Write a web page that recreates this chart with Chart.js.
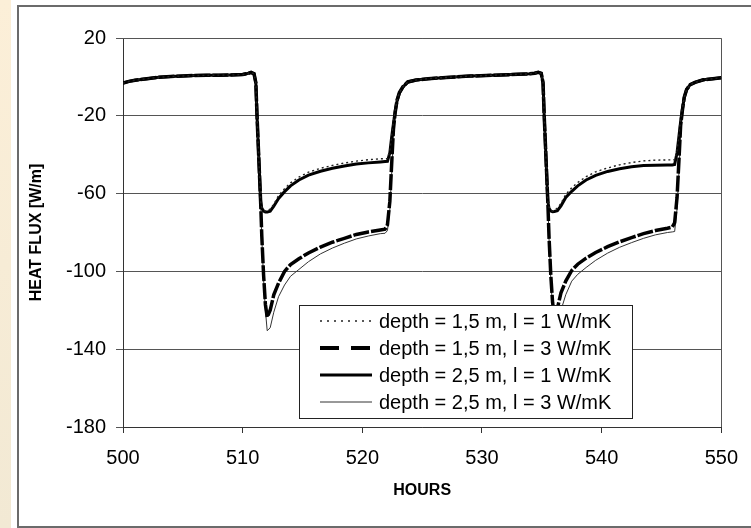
<!DOCTYPE html>
<html><head><meta charset="utf-8">
<script src="https://cdn.jsdelivr.net/npm/chart.js@4.4.0/dist/chart.umd.min.js"></script>
<style>
html,body{margin:0;padding:0;background:#fff;}
#wrap{position:relative;width:751px;height:528px;overflow:hidden;}
#strip{position:absolute;left:0;top:0;width:11px;height:528px;background:linear-gradient(#fcefd8,#f2e9d4);}
#frame{position:absolute;left:17px;top:5px;width:760px;height:523px;border:2px solid #6b6b6b;box-sizing:border-box;}
canvas{position:absolute;left:0;top:0;}
</style></head>
<body><div id="wrap"><div id="strip"></div><div id="frame"></div><canvas id="c" width="751" height="528"></canvas></div>
<script>
const hours = [500,500.5,501,502,503,504,505,506,507,508,509,510,510.4,510.7,510.95,511.1,511.2,511.35,511.5,511.6,
511.75,511.9,512.05,512.3,512.6,513,513.5,514,514.7,515.5,516.5,517.5,518.5,519.5,520.5,521.5,521.9,522.1,522.3,522.45,
522.6,522.75,522.9,523.1,523.4,523.8,524.5,525.5,527,529,531,533,534,534.4,534.7,534.95,535.1,535.2,535.35,535.5,
535.6,535.75,535.9,536.05,536.3,536.6,537,537.5,538,538.7,539.5,540.5,541.5,542.5,543.5,544.5,545.5,545.9,546.1,546.3,
546.45,546.6,546.75,546.9,547.1,547.4,547.8,548.5,549.3,550];

// depth = 1,5 m, l = 1 W/mK (dotted)
const fluxD15L1 = [-3.2,-2.3,-1.7,-0.9,-0.2,0.2,0.5,0.7,0.8,0.9,1.0,1.2,1.7,2.3,1.6,-3,-20,-42,-64,
-67,-68.5,-69,-68.8,-68,-65.5,-61,-57.5,-54.5,-51.5,-49,-47,-45.5,-44.3,-43.3,-42.6,-42.1,-42,
-42,-38,-30,-23,-17,-12,-8,-5,
-2.6,-1.6,-0.9,-0.3,0.4,0.9,1.3,1.6,1.9,2.4,1.8,-3,-20,-42,-64,
-67,-68.5,-69,-68.5,-67.5,-65,-60.5,-57,-54.3,-51.3,-48.8,-46.8,-45.2,-44,-43.2,-42.8,-42.7,-42.6,-42.6,
-38,-30,-22,-16,-10.5,
-6.5,-4,-2.8,-1.5,-0.9,-0.4];

// depth = 1,5 m, l = 3 W/mK (thick dashed)
const fluxD15L3 = [-3.2,-2.3,-1.7,-0.9,-0.2,0.2,0.5,0.7,0.8,0.9,1.0,1.2,1.7,2.3,1.6,-3,-20,-42,-64,
-82,-102,-117,-123.5,-120,-112,-106,-100,-96.5,-93.5,-90.5,-87.5,-85,-83,-81,-79.7,-78.7,-78.3,
-76,-64,-45,-27,-18,-12,-8,-5,
-2.6,-1.6,-0.9,-0.3,0.4,0.9,1.3,1.6,1.9,2.4,1.8,-3,-20,-42,-64,
-82,-102,-116,-122.5,-119,-111,-105,-99.5,-96.3,-93.2,-90.3,-87.3,-84.8,-82.6,-80.6,-79,-77.8,-77.2,-75,
-62,-44,-25,-17,-10.5,
-6.5,-4,-2.8,-1.5,-0.9,-0.4];

// depth = 2,5 m, l = 1 W/mK (thick solid)
const fluxD25L1 = [-3.2,-2.3,-1.7,-0.9,-0.2,0.2,0.5,0.7,0.8,0.9,1.0,1.2,1.7,2.3,1.6,-3,-20,-42,-64,
-67.5,-69,-69.5,-69.5,-69,-66.5,-62.5,-59,-56,-53,-50.5,-48.5,-47,-45.8,-44.8,-44.2,-43.7,-43.5,
-43.4,-39,-31,-24,-17.5,-12.5,-8.3,-5.2,
-2.6,-1.6,-0.9,-0.3,0.4,0.9,1.3,1.6,1.9,2.4,1.8,-3,-20,-42,-64,
-67.5,-69,-69.3,-69.2,-68.8,-66.3,-62,-58.8,-56,-53,-50.6,-48.6,-47.2,-46.2,-45.6,-45.4,-45.3,-45.3,-45,
-39,-31,-23,-16.5,-10.8,
-6.5,-4,-2.8,-1.5,-0.9,-0.4];

// depth = 2,5 m, l = 3 W/mK (thin solid)
const fluxD25L3 = [-3.2,-2.3,-1.7,-0.9,-0.2,0.2,0.5,0.7,0.8,0.9,1.0,1.2,1.7,2.3,1.6,-3,-20,-42,-64,
-83,-104,-120,-130.5,-129,-121,-113,-107,-102.5,-99,-95,-91,-88,-85.5,-83.3,-81.8,-80.6,-80.4,
-79,-68,-50,-31,-19,-13,-8.5,-5.3,
-2.6,-1.6,-0.9,-0.3,0.4,0.9,1.3,1.6,1.9,2.4,1.8,-3,-20,-42,-64,
-83,-104,-119,-129.5,-128,-120,-112,-105,-101.5,-98,-94.3,-90.6,-87.6,-85.2,-83,-81.2,-80,-79.7,-79.5,
-68,-50,-30,-18,-11.5,
-6.5,-4,-2.8,-1.5,-0.9,-0.4];

const seriesLabels = ['depth = 1,5 m, l = 1 W/mK','depth = 1,5 m, l = 3 W/mK','depth = 2,5 m, l = 1 W/mK','depth = 2,5 m, l = 3 W/mK'];
const xTicks = [500,510,520,530,540,550];
const yTicks = [-180,-140,-100,-60,-20,20];
const xTitle = 'HOURS';
const yTitle = 'HEAT FLUX [W/m]';

const FONT = '"Liberation Sans", Arial, sans-serif';
const pts = vals => hours.map((h,i)=>({x:h,y:vals[i]}));
const legendDash = [[2,5],[19,12],[],[]];

const styles = [
  {borderColor:'#222', borderWidth:1.4, borderDash:[2,3], order:1},
  {borderColor:'#000', borderWidth:3.5, borderDash:[16,2], order:2},
  {borderColor:'#000', borderWidth:3, borderDash:[], order:3},
  {borderColor:'#333', borderWidth:1, borderDash:[], order:4}
];
const seriesVals = [fluxD15L1, fluxD15L3, fluxD25L1, fluxD25L3];

const framePlugin = {
  id:'frameLegend',
  beforeDatasetsDraw(chart){
    const {ctx, chartArea:a} = chart;
    ctx.save();
    ctx.strokeStyle='#555'; ctx.lineWidth=1;
    ctx.beginPath();
    ctx.moveTo(a.left, Math.round(a.top)+0.5);
    ctx.lineTo(Math.round(a.right)+0.5, Math.round(a.top)+0.5);
    ctx.lineTo(Math.round(a.right)+0.5, a.bottom);
    ctx.stroke();
    ctx.restore();
  },
  afterDatasetsDraw(chart){
    const {ctx, chartArea:a} = chart;
    const L = Math.round(a.left+176), T = Math.round(a.top+267), W = 333, H = 113;
    ctx.save();
    ctx.fillStyle='#fff'; ctx.fillRect(L,T,W,H);
    ctx.strokeStyle='#222'; ctx.lineWidth=1; ctx.setLineDash([]);
    ctx.strokeRect(L+0.5,T+0.5,W,H);
    chart.data.datasets.forEach((ds,i)=>{
      const y = T+16+i*27;
      ctx.beginPath();
      ctx.setLineDash(legendDash[i]);
      ctx.lineWidth = i===1 ? 4 : ds.borderWidth;
      ctx.strokeStyle = ds.borderColor;
      ctx.moveTo(L+21,y); ctx.lineTo(L+73,y); ctx.stroke();
      ctx.setLineDash([]);
      ctx.fillStyle='#000';
      ctx.font='20px '+FONT;
      ctx.textBaseline='middle'; ctx.textAlign='left';
      ctx.fillText(ds.label, L+80, y+1);
    });
    ctx.restore();
  }
};

new Chart(document.getElementById('c'), {
  type:'line',
  data:{
    datasets: seriesVals.map((v,i)=>Object.assign({
      label: seriesLabels[i], data: pts(v), pointRadius:0, tension:0, fill:false
    }, styles[i]))
  },
  options:{
    responsive:false, animation:false, devicePixelRatio:1,
    layout:{padding:{top:38,right:21,left:0,bottom:0}},
    plugins:{legend:{display:false}, tooltip:{enabled:false}},
    scales:{
      x:{
        type:'linear', min:500, max:550,
        afterBuildTicks:s=>{s.ticks = xTicks.map(v=>({value:v}));},
        grid:{drawOnChartArea:false, drawTicks:true, tickLength:6, color:'#333'},
        border:{display:true, color:'#333', width:1},
        ticks:{font:{family:FONT,size:20}, color:'#000', padding:13, maxRotation:0, autoSkip:false},
        title:{display:true, text:xTitle, font:{family:FONT,size:16,weight:'bold'}, color:'#000', padding:{top:0,bottom:28}},
        afterFit:s=>{s.height=101;}
      },
      y:{
        type:'linear', min:-180, max:20,
        afterBuildTicks:s=>{s.ticks = yTicks.map(v=>({value:v}));},
        grid:{color:'#555', tickLength:7, drawTicks:true, lineWidth:1},
        border:{display:true, color:'#333', width:1},
        ticks:{font:{family:FONT,size:20}, color:'#000', padding:10},
        title:{display:true, text:yTitle, font:{family:FONT,size:16,weight:'bold'}, color:'#000', padding:{top:27,bottom:0}},
        afterFit:s=>{s.width=123;}
      }
    }
  },
  plugins:[framePlugin]
});
</script>
</body></html>
